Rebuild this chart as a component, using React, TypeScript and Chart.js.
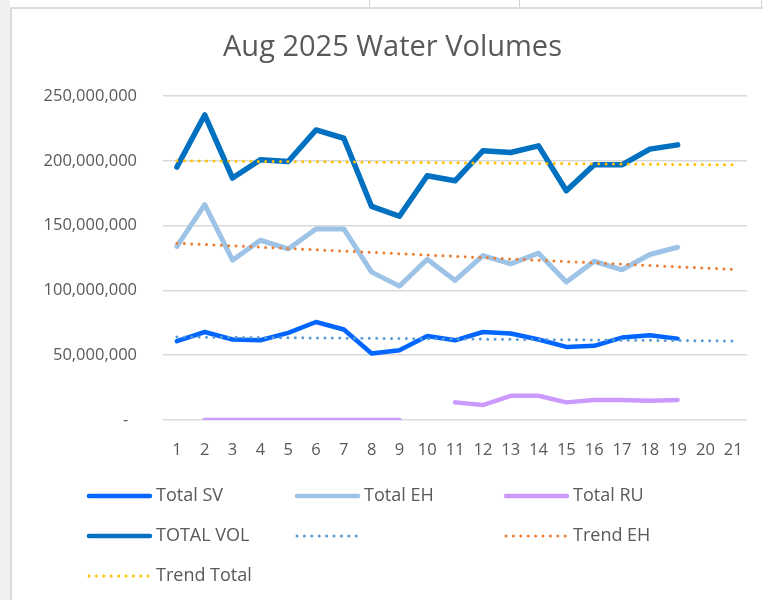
import React, { useEffect, useRef } from "react";
import { Chart, registerables } from "chart.js";

Chart.register(...registerables);

const days = ["1", "2", "3", "4", "5", "6", "7", "8", "9", "10", "11", "12", "13", "14", "15", "16", "17", "18", "19", "20", "21"];

const totalSV = [60800000, 67900000, 62100000, 61500000, 67200000, 75600000, 69800000, 51300000, 53800000, 64800000, 61500000, 67900000, 66700000, 62100000, 56400000, 57200000, 63600000, 65400000, 62800000, null, null];
const totalEH = [134000000, 166200000, 123300000, 138700000, 132000000, 147400000, 147400000, 114100000, 103300000, 124000000, 107700000, 126900000, 120500000, 128700000, 106400000, 122500000, 115900000, 127700000, 133300000, null, null];
const totalRU = [null, 0, 0, 0, 0, 0, 0, 0, 0, null, 13600000, 11500000, 18700000, 18700000, 13600000, 15400000, 15400000, 14900000, 15400000, null, null];
const totalVol = [195200000, 235400000, 186700000, 200800000, 199500000, 223800000, 217400000, 164800000, 157200000, 188500000, 184600000, 207700000, 206400000, 211500000, 176900000, 196900000, 196900000, 209000000, 212300000, null, null];

// Linear trendlines: only the two end values are given (day 1 and day 21)
const trendSV = [64100000, null, null, null, null, null, null, null, null, null, null, null, null, null, null, null, null, null, null, null, 61000000];
const trendEH = [136400000, null, null, null, null, null, null, null, null, null, null, null, null, null, null, null, null, null, null, null, 116200000];
const trendTotal = [200000000, null, null, null, null, null, null, null, null, null, null, null, null, null, null, null, null, null, null, null, 196900000];

const yTicks = [0, 50000000, 100000000, 150000000, 200000000, 250000000];

const TEXT = "#595959";
const FONT = '"Open Sans", "DejaVu Sans", sans-serif';

const gridLegend = {
  id: "gridLegend",
  afterDraw(chart: any) {
    const ctx = chart.ctx;
    const cols = [88, 296, 505];
    const rows = [496, 536, 576];
    chart.data.datasets.forEach((ds: any, i: number) => {
      const x = cols[i % 3];
      const y = rows[Math.floor(i / 3)];
      ctx.save();
      ctx.strokeStyle = ds.borderColor;
      ctx.lineWidth = ds.legendWidth;
      ctx.lineCap = "round";
      ctx.setLineDash(ds.borderDash || []);
      ctx.beginPath();
      ctx.moveTo(x + 1, y);
      ctx.lineTo(x + 62, y);
      ctx.stroke();
      ctx.setLineDash([]);
      ctx.fillStyle = TEXT;
      ctx.font = `18px ${FONT}`;
      ctx.textBaseline = "middle";
      ctx.textAlign = "left";
      ctx.fillText(ds.label, x + 68, y);
      ctx.restore();
    });
  },
};

export default function App() {
  const ref = useRef<HTMLCanvasElement | null>(null);

  useEffect(() => {
    if (!ref.current) return;
    const solid = (label: string, data: any[], color: string, width: number, order: number) => ({
      label,
      data,
      borderColor: color,
      backgroundColor: color,
      borderWidth: width,
      legendWidth: 4.5,
      pointRadius: 0,
      pointHoverRadius: 0,
      tension: 0,
      borderCapStyle: "round",
      borderJoinStyle: "round",
      spanGaps: false,
      fill: false,
      order,
    });
    const dotted = (label: string, data: any[], color: string) => ({
      label,
      data,
      borderColor: color,
      backgroundColor: color,
      borderWidth: 3,
      legendWidth: 3,
      borderDash: [0, 7.4],
      borderCapStyle: "round",
      pointRadius: 0,
      pointHoverRadius: 0,
      tension: 0,
      spanGaps: true,
      fill: false,
      order: 0,
    });

    const chart = new Chart(ref.current, {
      type: "line",
      data: {
        labels: days,
        datasets: [
          solid("Total SV", totalSV, "#0066FF", 4.5, 4),
          solid("Total EH", totalEH, "#9DC3E6", 5, 3),
          solid("Total RU", totalRU, "#CC99FF", 4.5, 2),
          solid("TOTAL VOL", totalVol, "#0070C0", 5.5, 1),
          dotted("", trendSV, "#5B9BD5"),
          dotted("Trend EH", trendEH, "#ED7D31"),
          dotted("Trend Total", trendTotal, "#FFC000"),
        ] as any,
      },
      options: {
        responsive: false,
        animation: false,
        devicePixelRatio: 1,
        layout: { padding: { left: 36, right: 14, top: 10, bottom: 140 } },
        plugins: {
          legend: { display: false },
          tooltip: { enabled: false },
          title: {
            display: true,
            text: "Aug 2025 Water Volumes",
            color: TEXT,
            font: { family: FONT, size: 29, weight: "normal" as any, lineHeight: 1.2 },
            padding: { top: 20.6, bottom: 30.6 },
          },
        },
        scales: {
          x: {
            type: "category",
            offset: true,
            grid: { display: false, drawTicks: false },
            border: { display: false },
            ticks: {
              color: TEXT,
              font: { family: FONT, size: 16.5 },
              padding: 20,
              maxRotation: 0,
              autoSkip: false,
            },
            afterFit: (s: any) => {
              s.height = 40;
            },
          },
          y: {
            min: 0,
            max: 250000000,
            afterBuildTicks: (s: any) => {
              s.ticks = yTicks.map((v) => ({ value: v }));
            },
            grid: { color: "#D9D9D9", lineWidth: 1.5, drawTicks: false },
            border: { display: false },
            ticks: {
              color: TEXT,
              font: { family: FONT, size: 16.5 },
              padding: 26,
              callback: (v: any) => (Number(v) === 0 ? "-  " : Number(v).toLocaleString("en-US")),
            },
            afterFit: (s: any) => {
              s.width = 127;
            },
          },
        },
      },
      plugins: [gridLegend],
    });
    return () => chart.destroy();
  }, []);

  return (
    <div style={{ position: "fixed", left: 0, top: 0, width: 763, height: 600, background: "#FFFFFF", overflow: "hidden" }}>
      <div style={{ position: "absolute", left: 0, top: 0, width: 10, height: 600, background: "#F0F0F0" }} />
      <div style={{ position: "absolute", left: 369, top: 0, width: 1, height: 7, background: "#D4D4D4" }} />
      <div style={{ position: "absolute", left: 519, top: 0, width: 1, height: 7, background: "#D4D4D4" }} />
      <div style={{ position: "absolute", left: 761, top: 0, width: 1, height: 7, background: "#D4D4D4" }} />
      <div style={{ position: "absolute", left: 10, top: 7, width: 800, height: 700, borderLeft: "2px solid #DCDCDC", borderTop: "2px solid #DCDCDC", boxSizing: "border-box" }} />
      <canvas ref={ref} width={763} height={600} style={{ position: "absolute", left: 0, top: 0, width: 763, height: 600 }} />
    </div>
  );
}
